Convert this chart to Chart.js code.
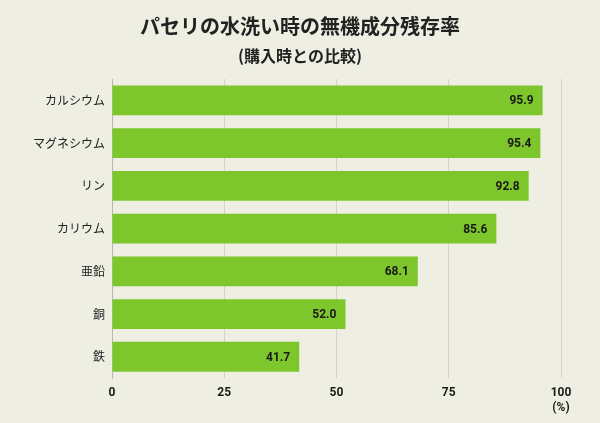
<!DOCTYPE html>
<html>
<head>
<meta charset="utf-8">
<script src="https://cdn.jsdelivr.net/npm/chart.js@4"></script>
<style>
  html, body { margin: 0; padding: 0; background: #eeeee3; }
  #wrap { position: relative; width: 600px; height: 423px; }
  #wrap canvas { position: absolute; left: 0; top: 0; }
  .ttl {
    position: absolute; left: 0; width: 600px; text-align: center;
    font-family: 'Noto Sans CJK JP', sans-serif; font-weight: bold; color: #222;
    line-height: 1; margin: 0;
  }
  #title { top: 16px; font-size: 20px; }
  #subtitle { top: 47px; font-size: 16px; }
</style>
</head>
<body>
<div id="wrap">
  <canvas id="bar-chart"></canvas>
  <div class="ttl" id="title">パセリの水洗い時の無機成分残存率</div>
  <div class="ttl" id="subtitle">(購入時との比較)</div>
</div>
<script>
  // data
  const categories = ['カルシウム', 'マグネシウム', 'リン', 'カリウム', '亜鉛', '銅', '鉄'];
  const residual = [95.9, 95.4, 92.8, 85.6, 68.1, 52.0, 41.7];
  const xTicks = [0, 25, 50, 75, 100];

  const FONT = "'Noto Sans CJK JP', Roboto, sans-serif";

  // value text at the end of each bar
  const valueLabels = {
    id: 'valueLabels',
    afterDatasetsDraw(chart) {
      const ctx = chart.ctx;
      const meta = chart.getDatasetMeta(0);
      ctx.save();
      ctx.font = "bold 12px Roboto, sans-serif";
      ctx.fillStyle = '#1a1a1a';
      ctx.textAlign = 'right';
      ctx.textBaseline = 'middle';
      meta.data.forEach((bar, i) => {
        ctx.fillText(residual[i].toFixed(1), bar.x - 9, bar.y + 1);
      });
      ctx.restore();
    }
  };

  const barCtx = document.getElementById('bar-chart').getContext('2d');

  new Chart(barCtx, {
    type: 'bar',
    data: {
      labels: categories,
      datasets: [{
        data            : residual,
        backgroundColor : '#7dc62b',
        borderWidth     : 0,
        barPercentage   : 0.7,
        categoryPercentage: 1,
      }],
    },
    options: {
      indexAxis: 'y',
      responsive: true,
      maintainAspectRatio: false,
      animation: false,
      layout: {
        padding: { left: 0, right: 39, top: 79, bottom: 0 },
      },
      plugins: {
        legend: { display: false },
        tooltip: { enabled: false },
      },
      scales: {
        x: {
          min: 0,
          max: 100,
          afterBuildTicks(scale) {
            scale.ticks = xTicks.map(v => ({ value: v }));
          },
          grid: {
            color: '#d3d3c8',
            drawTicks: false,
          },
          border: { display: false },
          ticks: {
            color: '#1a1a1a',
            padding: 8,
            font: { family: "Roboto, sans-serif", size: 12, weight: 'bold' },
            callback: v => (v === 100 ? ['100', '(%)'] : String(v)),
          },
        },
        y: {
          afterFit(scale) { scale.width = 112; },
          grid: { display: false, drawTicks: false },
          border: { display: true, color: '#b8b8b0', width: 1 },
          ticks: {
            color: '#222',
            padding: 7,
            font: { family: FONT, size: 12 },
          },
        },
      },
    },
    plugins: [valueLabels],
  });
</script>
</body>
</html>
